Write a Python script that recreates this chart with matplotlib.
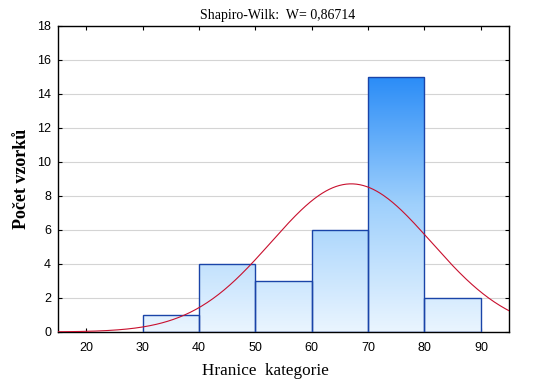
import numpy as np
import matplotlib.pyplot as plt
from matplotlib.colors import LinearSegmentedColormap
from matplotlib.patches import Rectangle

# hranice tříd a četnosti
bin_edges = [30, 40, 50, 60, 70, 80, 90]
counts = [1, 4, 3, 6, 15, 2]
x_ticks = [20, 30, 40, 50, 60, 70, 80, 90]
y_ticks = [0, 2, 4, 6, 8, 10, 12, 14, 16, 18]

# parametry proložené normální křivky
mean_val = 67.0
sd_val = 14.2
n_total = sum(counts)
bin_width = 10

fig, ax = plt.subplots(figsize=(5.37, 3.86), dpi=100)
fig.subplots_adjust(left=0.108, right=0.948, top=0.933, bottom=0.14)

# gradient pro sloupce
cmap = LinearSegmentedColormap.from_list("modra", ["#eaf5ff", "#9fd0fc", "#2a8cf7"])
grad = np.linspace(0, 1, 256).reshape(-1, 1)
for i in range(len(counts)):
    x0, x1 = bin_edges[i], bin_edges[i + 1]
    h = counts[i]
    rect = Rectangle((x0, 0), x1 - x0, h, facecolor="none", edgecolor="#1a44a8",
                     linewidth=1.0, zorder=3)
    ax.add_patch(rect)
    im = ax.imshow(grad, cmap=cmap, origin="lower", aspect="auto",
                   extent=(x0, x1, 0, 15), vmin=0, vmax=1, zorder=2)
    im.set_clip_path(rect)

ax.set_xlim(15, 95)
ax.set_ylim(0, 18)

xs = np.linspace(15, 95, 400)
ys = n_total * bin_width / (sd_val * np.sqrt(2 * np.pi)) * np.exp(-(xs - mean_val) ** 2 / (2 * sd_val ** 2))
ax.plot(xs, ys, color="#c8102e", linewidth=0.8, zorder=4)

ax.set_xticks(x_ticks)
ax.set_yticks(y_ticks)
ax.yaxis.grid(True, color="#d4d4d4", linewidth=0.8, zorder=0)
ax.set_axisbelow(True)
ax.tick_params(direction="in", top=True, right=True, length=3, width=0.8,
               labelsize=9, colors="black")
ax.tick_params(axis="x", pad=7)
ax.tick_params(axis="y", pad=5)
for lab in ax.get_xticklabels() + ax.get_yticklabels():
    lab.set_family("Liberation Sans")
for sp in ax.spines.values():
    sp.set_linewidth(1.0)

ax.set_title("Shapiro-Wilk:  W= 0,86714", family="Liberation Serif", fontsize=10, pad=5, x=0.487)
ax.set_xlabel("Hranice  kategorie", family="Liberation Serif", fontsize=12.3, labelpad=6)
ax.xaxis.set_label_coords(0.459, -0.1)
ax.set_ylabel("Počet vzorků", family="Liberation Serif", fontsize=13, fontweight="bold", labelpad=5)

plt.savefig("out.png", dpi=100)
plt.close()
